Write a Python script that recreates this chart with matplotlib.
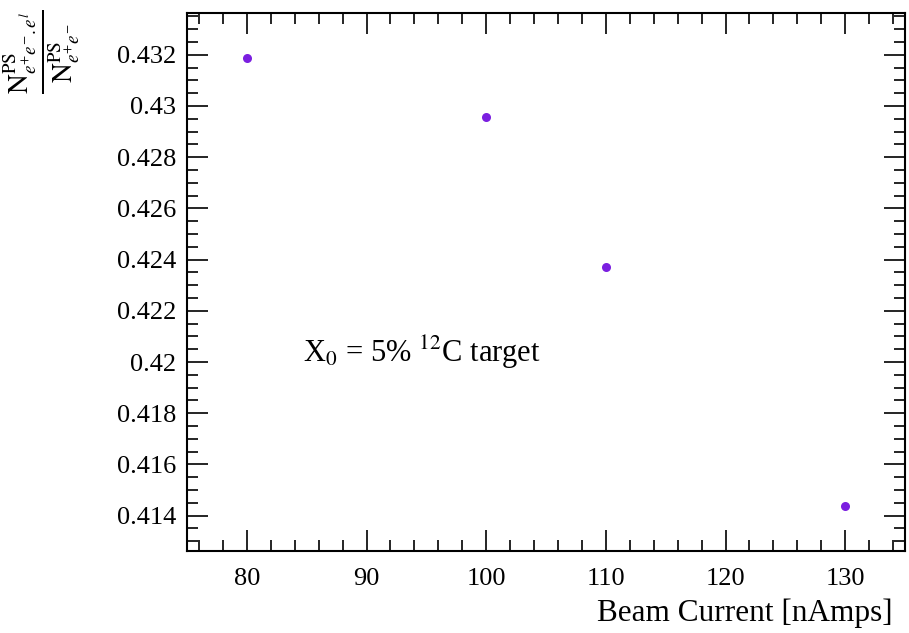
import matplotlib
matplotlib.use("Agg")
import matplotlib.pyplot as plt
from matplotlib.ticker import MultipleLocator

plt.rcParams['font.family'] = ['Liberation Serif', 'DejaVu Serif']
plt.rcParams['mathtext.fontset'] = 'stix'

beam_current = [80, 100, 110, 130]
ratio = [0.43188, 0.42955, 0.42370, 0.41439]

W, H = 909, 633
fig = plt.figure(figsize=(W/100, H/100), dpi=100)
L, R, T, B = 187, 905, 13, 551
ax = fig.add_axes([L/W, 1 - B/H, (R-L)/W, (B-T)/H])

ax.plot(beam_current, ratio, 'o', color='#7b1fe0', markersize=6.5, markeredgewidth=0)

ax.set_xlim(75, 135)
ax.set_ylim(0.41262, 0.43363)
ax.xaxis.set_major_locator(MultipleLocator(10))
ax.xaxis.set_minor_locator(MultipleLocator(2))
ax.yaxis.set_major_locator(MultipleLocator(0.002))
ax.yaxis.set_minor_locator(MultipleLocator(0.0005))

def yfmt(v, pos):
    s = f"{v:.3f}".rstrip('0').rstrip('.')
    return s
ax.yaxis.set_major_formatter(plt.FuncFormatter(yfmt))

ax.tick_params(which='both', direction='in', top=True, right=True, width=1.2, labelsize=19)
ax.tick_params(which='major', length=15)
ax.tick_params(which='minor', length=8)
ax.tick_params(axis='x', pad=12)
ax.tick_params(axis='y', pad=8)
for s in ax.spines.values():
    s.set_linewidth(1.5)

ax.text(84.7, 0.4200, r'X$_0$ = 5% $^{12}$C target', fontsize=22, ha='left', va='baseline')

fig.text(893/W, 1 - 613/H, 'Beam Current [nAmps]', fontsize=22.5, ha='right', va='center')
fig.text(42/W, 1 - 10/H,
         r'$\frac{\mathrm{N}^{\mathrm{PS}}_{e^{+}e^{-}.e^{l}}}{\mathrm{N}^{\mathrm{PS}}_{e^{+}e^{-}}}$',
         fontsize=28, rotation=90, ha='center', va='top')

fig.savefig('out.png', dpi=100)
